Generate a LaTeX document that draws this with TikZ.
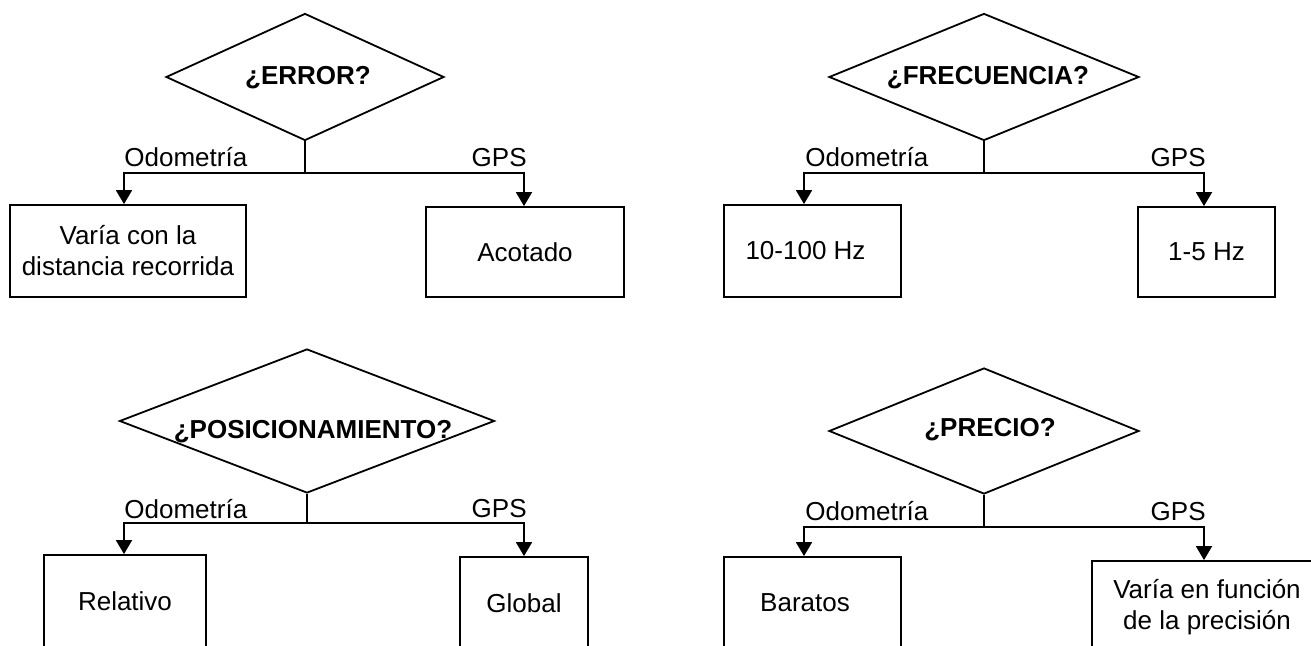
\documentclass[tikz,border=0pt]{standalone}
\usepackage{fontspec}
\setmainfont{Liberation Sans}
\usetikzlibrary{shapes.geometric,arrows.meta}
\begin{document}
\begin{tikzpicture}[x=0.5pt,y=-0.5pt,
  every node/.style={font=\fontsize{13}{15.5}\selectfont},
  decision/.style={draw, diamond, line width=0.9pt, inner sep=0pt},
  question/.style={font=\fontsize{13}{15.5}\selectfont\bfseries, anchor=base, inner sep=0pt},
  outcome/.style={draw, rectangle, line width=0.9pt, inner sep=0pt, align=center},
  branch/.style={line width=0.9pt},
  conn/.style={line width=0.9pt, -{Triangle[width=8pt,length=7pt]}},
  tag/.style={inner sep=0pt},
]
\useasboundingbox (0,0) rectangle (1311,646);
\clip (0,0) rectangle (1311,646);

% ---- Error ----
\node[decision, minimum width=139pt, minimum height=63.5pt] (d1) at (305,77) {};
\node[question] (q1) at (308,85) {¿ERROR?};
\coordinate (j1) at (305,173);
\node[outcome, minimum width=118pt, minimum height=46pt] (b1) at (128,251) {Varía con la\\distancia recorrida};
\node[outcome, minimum width=99pt, minimum height=45pt] (b2) at (525,252) {Acotado};
\draw[branch] (d1.south) -- (j1);
\draw[conn] (j1) -| ([xshift=-2pt]b1.north);
\draw[conn] (j1) -| ([xshift=-0.5pt]b2.north);
\node[tag, anchor=base west] (o1) at (124,167) {Odometría};
\node[tag, anchor=base east] (g1) at (527,167) {GPS};

% ---- Frecuencia ----
\node[decision, minimum width=155pt, minimum height=63.5pt] (d2) at (984,77) {};
\node[question] (q2) at (988,85) {¿FRECUENCIA?};
\coordinate (j2) at (984,173);
\node[outcome, minimum width=88.5pt, minimum height=46pt] (b3) at (812.5,251) {\raisebox{-2pt}{10-100 Hz}\kern7pt};
\node[outcome, minimum width=68.5pt, minimum height=45pt] (b4) at (1206.5,252) {1-5 Hz};
\draw[branch] (d2.south) -- (j2);
\draw[conn] (j2) -| ([xshift=-4.25pt]b3.north);
\draw[conn] (j2) -| ([xshift=-1.25pt]b4.north);
\node[tag, anchor=base west] (o2) at (805,167) {Odometría};
\node[tag, anchor=base east] (g2) at (1206,167) {GPS};

% ---- Posicionamiento ----
\node[decision, minimum width=187.5pt, minimum height=72pt] (d3) at (307,421) {};
\node[question] (q3) at (313,438) {¿POSICIONAMIENTO?};
\coordinate (j3) at (307,523);
\node[outcome, minimum width=81pt, minimum height=46pt] (b5) at (125,601) {Relativo};
\node[outcome, minimum width=64pt, minimum height=46pt] (b6) at (524,603) {Global};
\draw[branch] (d3.south) -- (j3);
\draw[conn] (j3) -| ([xshift=-0.5pt]b5.north);
\draw[conn] (j3) -| (b6.north);
\node[tag, anchor=base west] (o3) at (124,518) {Odometría};
\node[tag, anchor=base east] (g3) at (527,517) {GPS};

% ---- Precio ----
\node[decision, minimum width=155pt, minimum height=63pt] (d4) at (984,431) {};
\node[question] (q4) at (990,437) {¿PRECIO?};
\coordinate (j4) at (984,527);
\node[outcome, minimum width=88.5pt, minimum height=46pt] (b7) at (812.5,603) {\raisebox{-2pt}{Baratos}\kern7.5pt};
\node[outcome, minimum width=115pt, minimum height=46pt] (b8) at (1207,607) {Varía en función\\de la precisión};
\draw[branch] (d4.south) -- (j4);
\draw[conn] (j4) -| ([xshift=-4.25pt]b7.north);
\draw[conn] (j4) -| ([xshift=-1.5pt]b8.north);
\node[tag, anchor=base west] (o4) at (805,520) {Odometría};
\node[tag, anchor=base east] (g4) at (1206,520) {GPS};
\end{tikzpicture}
\end{document}
